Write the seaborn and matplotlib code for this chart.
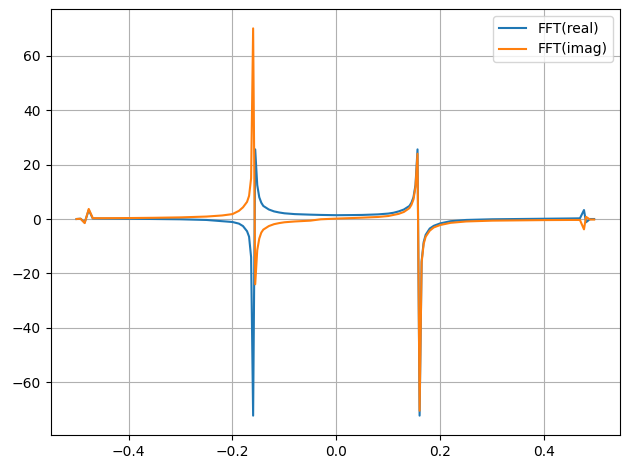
import matplotlib

matplotlib.use("Agg")

import matplotlib.pyplot as plt
import pandas as pd
import seaborn as sns

# frequency bins
FREQ = [
    -0.5, -0.4922, -0.4844, -0.4766, -0.4688, -0.45, -0.4, -0.35, -0.3,
    -0.25, -0.22, -0.2, -0.1875, -0.1797, -0.1719, -0.168, -0.1641,
    -0.1602, -0.1562, -0.1523, -0.1484, -0.1445, -0.1406, -0.13, -0.12,
    -0.11, -0.1, -0.08, -0.05, -0.03, 0.0, 0.03, 0.05, 0.08, 0.1, 0.11,
    0.12, 0.13, 0.1406, 0.1445, 0.1484, 0.1523, 0.1562, 0.1602, 0.1641,
    0.168, 0.1719, 0.1797, 0.1875, 0.2, 0.22, 0.25, 0.3, 0.35, 0.4, 0.45,
    0.4688, 0.4766, 0.4805, 0.4883, 0.4961,
]

FFT_REAL = [
    0.0, 0.1, -1.3, 3.3, 0.2, 0.15, 0.1, 0.0, -0.1,
    -0.35, -0.8, -1.1, -1.7, -2.6, -4.5, -6.5, -14.0,
    -72.3, 25.6, 12.5, 8.0, 6.0, 4.8, 3.5, 2.8,
    2.4, 2.1, 1.8, 1.6, 1.5, 1.4, 1.45, 1.5, 1.7, 2.0, 2.3,
    2.8, 3.5, 4.8, 6.0, 8.0, 12.5, 25.6, -72.3, -15.5,
    -8.5, -5.8, -3.5, -2.5, -1.6, -0.8, -0.35, -0.1, 0.0, 0.1, 0.2,
    0.25, 3.3, -1.2, 0.0, 0.0,
]

FFT_IMAG = [
    0.0, 0.1, -1.5, 3.7, 0.3, 0.3, 0.35, 0.45, 0.6,
    0.9, 1.3, 1.8, 3.0, 4.3, 6.3, 8.5, 15.0,
    70.1, -24.0, -11.5, -7.2, -5.0, -3.9, -2.6, -1.9,
    -1.5, -1.2, -0.9, -0.6, -0.1, 0.15, 0.35, 0.5, 0.75, 1.1, 1.5,
    1.9, 2.6, 4.0, 5.2, 7.2, 11.8, 24.0, -70.5, -16.0,
    -9.2, -6.5, -4.3, -3.1, -2.2, -1.4, -0.9, -0.6, -0.5, -0.4, -0.35,
    -0.35, -3.8, 0.8, -0.2, -0.2,
]


def main() -> None:
    df = pd.DataFrame({"freq": FREQ, "real": FFT_REAL, "imag": FFT_IMAG})

    fig, ax = plt.subplots(figsize=(6.3, 4.69), dpi=100)
    sns.lineplot(data=df, x="freq", y="real", ax=ax, color="tab:blue",
                 label="FFT(real)", linewidth=1.5)
    sns.lineplot(data=df, x="freq", y="imag", ax=ax, color="tab:orange",
                 label="FFT(imag)", linewidth=1.5)
    ax.set_xlabel("")
    ax.set_ylabel("")
    ax.grid(True)
    ax.legend(loc="upper right")
    fig.subplots_adjust(left=50.7 / 630, right=620 / 630,
                        top=1 - 9 / 469, bottom=1 - 435 / 469)
    fig.savefig("out.png", dpi=100)
    plt.close(fig)


if __name__ == "__main__":
    main()
